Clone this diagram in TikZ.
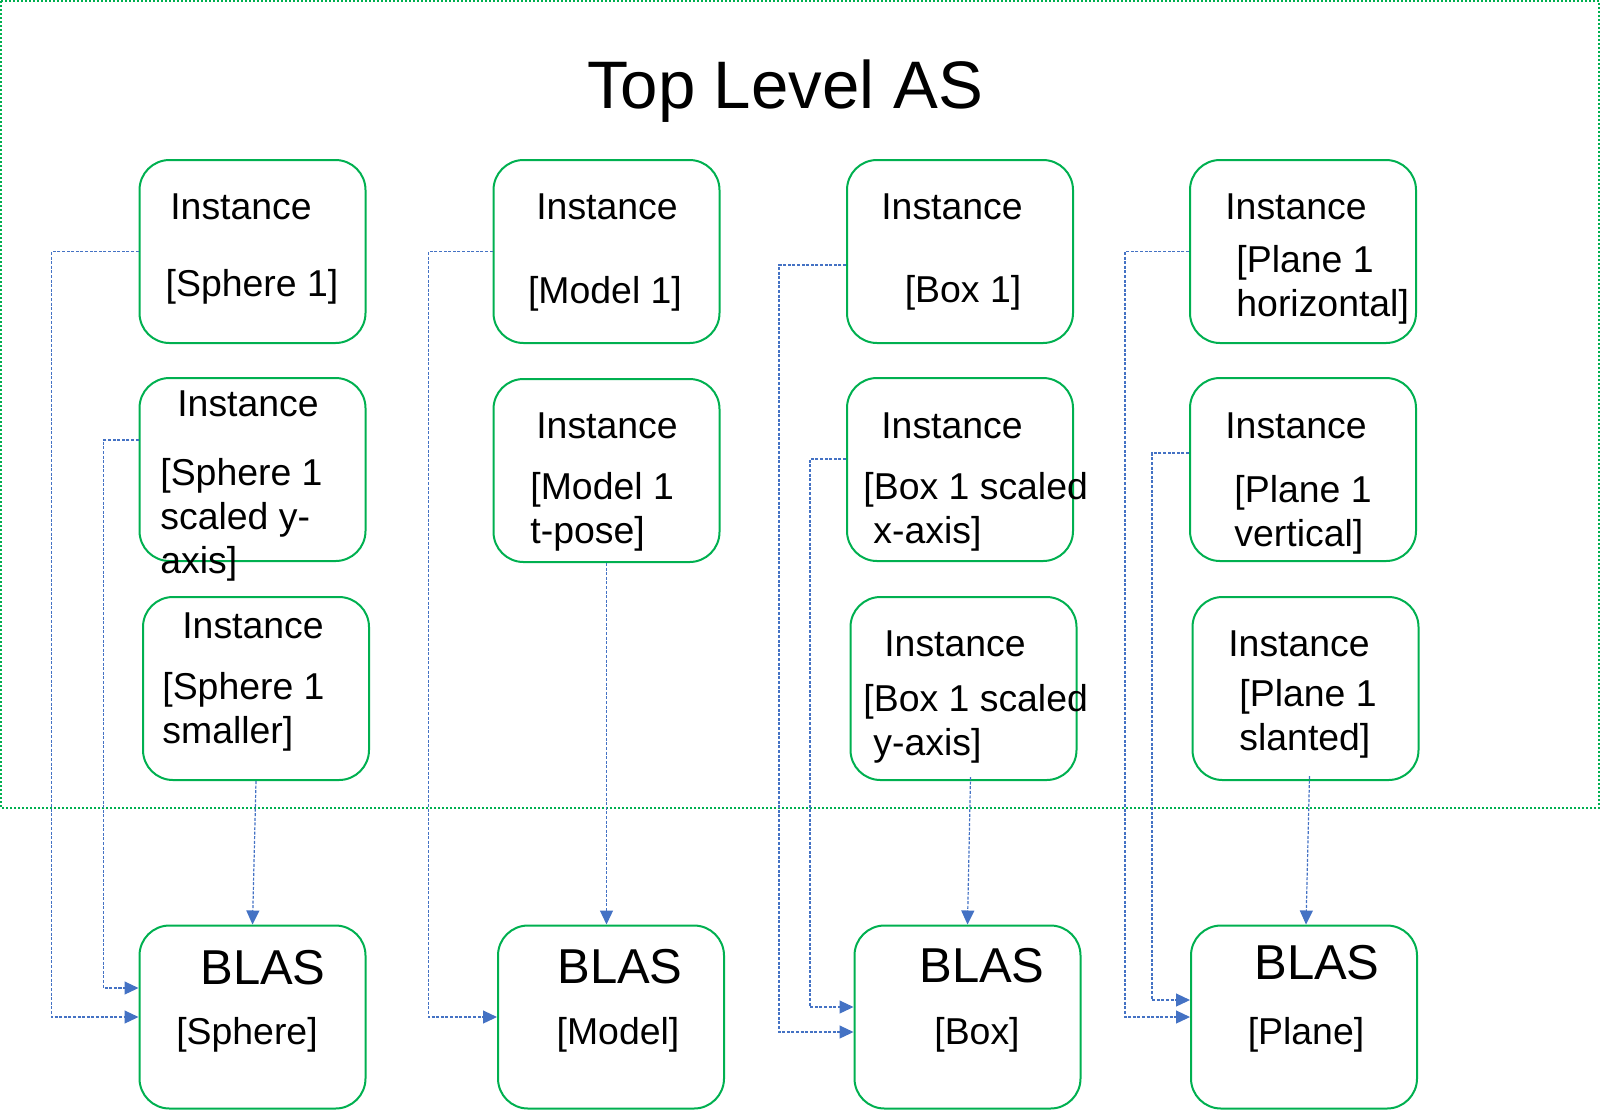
\documentclass[tikz,border=0pt]{standalone}
\usepackage{fontspec}
\setmainfont{Liberation Sans}
\usetikzlibrary{arrows.meta}

\definecolor{asgreen}{HTML}{00B050}
\definecolor{linkblue}{HTML}{4472C4}

\begin{document}
\begin{tikzpicture}[x=0.5pt, y=-0.5pt,
  frame/.style={draw=asgreen, line width=1pt, dash pattern=on 1pt off 1pt},
  inst/.style={rectangle, rounded corners=15pt, draw=asgreen, line width=1pt, minimum width=113pt, minimum height=91.5pt, inner sep=0pt},
  txt/.style={font=\fontsize{18.7}{22}\selectfont, inner sep=0pt, anchor=base},
  multi/.style={txt, align=left, anchor=base west},
  blastxt/.style={font=\fontsize{24.5}{28}\selectfont, inner sep=0pt, anchor=base},
  link/.style={draw=linkblue, line width=0.6pt, dash pattern=on 1.5pt off 0.8pt, -{Triangle[length=7pt, width=6.5pt]}}
]
\useasboundingbox (0,0) rectangle (1600,1110);

% top level acceleration structure
\draw [frame] (1,1) rectangle (1599,808);
\node (title) [font=\fontsize{33.6}{38}\selectfont, inner sep=0pt, anchor=base] at (785,108) {Top Level AS};

% instances
\node (sph1) [inst] at (252.5,251.5) {};
\node (sph2) [inst] at (252.5,469.5) {};
\node (sph3) [inst] at (256,688.5) {};
\node (mod1) [inst] at (606.5,251.5) {};
\node (mod2) [inst] at (606.5,470.5) {};
\node (box1) [inst] at (960,251.5) {};
\node (box2) [inst] at (960,469.5) {};
\node (box3) [inst] at (963.5,688.5) {};
\node (pln1) [inst] at (1303,251.5) {};
\node (pln2) [inst] at (1303,469.5) {};
\node (pln3) [inst] at (1305.5,688.5) {};

% bottom level acceleration structures
\node (blsph) [inst] at (252.5,1017) {};
\node (blmod) [inst] at (611,1017) {};
\node (blbox) [inst] at (967.5,1017) {};
\node (blpln) [inst] at (1304,1017) {};

% texts (multi-line ones sit on their last line)
\node (sph1a) [txt] at (241,219) {Instance};
\node (sph1b) [txt] at (252,296) {[Sphere 1]};
\node (sph2a) [txt] at (248,416) {Instance};
\node (sph2b) [multi] at (160,573) {[Sphere 1\\scaled y-\\axis]};
\node (sph3a) [txt] at (253,638) {Instance};
\node (sph3b) [multi] at (162,743) {[Sphere 1\\smaller]};
\node (mod1a) [txt] at (607,219) {Instance};
\node (mod1b) [txt] at (605,303) {[Model 1]};
\node (mod2a) [txt] at (607,438) {Instance};
\node (mod2b) [multi] at (530,543) {[Model 1\\t-pose]};
\node (box1a) [txt] at (952,219) {Instance};
\node (box1b) [txt] at (963,302) {[Box 1]};
\node (box2a) [txt] at (952,438) {Instance};
\node (box2b) [multi] at (863,543) {[Box 1 scaled\\\hspace*{5pt}x-axis]};
\node (box3a) [txt] at (955,656) {Instance};
\node (box3b) [multi] at (863,755) {[Box 1 scaled\\\hspace*{5pt}y-axis]};
\node (pln1a) [txt] at (1296,219) {Instance};
\node (pln1b) [multi] at (1236,316) {[Plane 1\\horizontal]};
\node (pln2a) [txt] at (1296,438) {Instance};
\node (pln2b) [multi] at (1234,546) {[Plane 1\\vertical]};
\node (pln3a) [txt] at (1299,656) {Instance};
\node (pln3b) [multi] at (1239,750) {[Plane 1\\slanted]};

\node (blspha) [blastxt] at (263,984) {BLAS};
\node (blsphb) [txt] at (247,1044) {[Sphere]};
\node (blmoda) [blastxt] at (620,983) {BLAS};
\node (blmodb) [txt] at (618,1044) {[Model]};
\node (blboxa) [blastxt] at (982,982) {BLAS};
\node (blboxb) [txt] at (977,1044) {[Box]};
\node (blplna) [blastxt] at (1317,979) {BLAS};
\node (blplnb) [txt] at (1306,1044) {[Plane]};

% links from instances to BLAS
\draw [link] (sph1.west) -- ++(-87,0) |- (blsph.west);
\draw [link] ([yshift=14.75pt]sph2.west) -- ++(-35,0) |- ([yshift=14.5pt]blsph.west);
\draw [link] (sph3.south) -- (blsph.north);

\draw [link] (mod1.west) -- ++(-64,0) |- (blmod.west);
\draw [link] (mod2.south) -- (mod2.south |- blmod.north);

\draw [link] ([yshift=-6.75pt]box1.west) -- ++(-67,0) |- ([yshift=-7.5pt]blbox.west);
\draw [link] ([yshift=5.25pt]box2.west) -- ++(-36,0) |- ([yshift=5pt]blbox.west);
\draw [link] ([xshift=3.5pt, yshift=2pt]box3.south) -- (blbox.north);

\draw [link] (pln1.west) -- ++(-64,0) |- (blpln.west);
\draw [link] ([yshift=8.25pt]pln2.west) -- ++(-37,0) |- ([yshift=8.5pt]blpln.west);
\draw [link] ([xshift=2pt, yshift=2.5pt]pln3.south) -- ([xshift=1pt]blpln.north);

\end{tikzpicture}
\end{document}
